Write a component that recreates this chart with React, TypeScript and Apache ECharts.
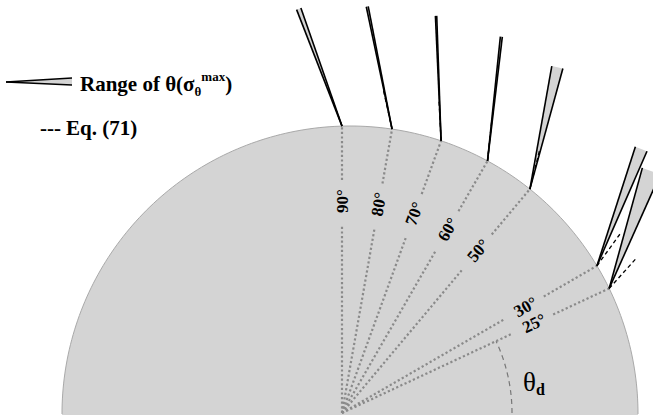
import React, { useEffect, useRef } from "react";
import * as echarts from "echarts";

// ---- data (degrees) ----
const crackAngles = [90, 80, 70, 60, 50, 30, 25];
const angleLabels = ["90°", "80°", "70°", "60°", "50°", "30°", "25°"];
const rangeLow = [109.2, 101.0, 92.0, 83.2, 74.7, 66.4, 65.9];
const rangeHigh = [111.3, 101.9, 92.6, 84.1, 79.9, 72.1, 74.6];
const eq71Angles = [110, 102.5, 93, 84, 76, 54, 48];
const thetaDAngle = 25;

// ---- geometry (data units = px) ----
const X_MIN = -342;
const X_MAX = 311;
const Y_MIN = -5;
const Y_MAX = 413;
const CIRCLE_C = [8, -1];
const CIRCLE_R = 288;
const WEDGE_LEN = 125;
const DASH_LEN = 42;
const LABEL_R = 212;
const GAP_IN = 187;
const GAP_OUT = 233;
const ARC_R = 170;

const FONT = "'Liberation Serif', 'Times New Roman', serif";
const GRAY = "#d4d4d4";

const rad = (d: number) => (d * Math.PI) / 180;
const dir = (d: number) => [Math.cos(rad(d)), Math.sin(rad(d))];
const rayHit = (d: number) => {
  const [ux, uy] = dir(d);
  const b = CIRCLE_C[0] * ux + CIRCLE_C[1] * uy;
  const c = CIRCLE_C[0] ** 2 + CIRCLE_C[1] ** 2 - CIRCLE_R ** 2;
  return b + Math.sqrt(b * b - c);
};
const polar = (d: number, r: number, from = [0, 0]) => {
  const [ux, uy] = dir(d);
  return [from[0] + r * ux, from[1] + r * uy];
};

export default function App() {
  const ref = useRef<HTMLDivElement>(null);
  useEffect(() => {
    if (!ref.current) return;
    const chart = echarts.init(ref.current, undefined, { renderer: "svg" });

    const semicircle = {
      type: "custom",
      silent: true,
      z: 1,
      data: [[0, 0]],
      renderItem: (_p: any, api: any) => {
        const arc: number[][] = [];
        for (let a = 0; a <= 180; a += 1) {
          arc.push(api.coord(polar(a, CIRCLE_R, CIRCLE_C)));
        }
        const fillPts = arc.concat([
          api.coord([CIRCLE_C[0] - CIRCLE_R, CIRCLE_C[1] - 1]),
          api.coord([CIRCLE_C[0] + CIRCLE_R, CIRCLE_C[1] - 1]),
        ]);
        return {
          type: "group",
          children: [
            { type: "polygon", shape: { points: fillPts }, style: { fill: GRAY } },
            { type: "polyline", shape: { points: arc }, style: { stroke: "#a9a9a9", lineWidth: 1, fill: "none" } },
          ],
        };
      },
    };

    const radials = {
      type: "custom",
      silent: true,
      z: 2,
      data: crackAngles.map((a, i) => [a, i]),
      renderItem: (_p: any, api: any) => {
        const a = api.value(0);
        const i = api.value(1);
        const o = api.coord([0, 0]);
        const p1 = api.coord(polar(a, GAP_IN));
        const p2 = api.coord(polar(a, GAP_OUT));
        const p3 = api.coord(polar(a, rayHit(a)));
        const pl = api.coord(polar(a, LABEL_R));
        const ls = { stroke: "#8a8a8a", lineWidth: 2.2, lineDash: [2.2, 2.4] };
        return {
          type: "group",
          children: [
            { type: "line", shape: { x1: o[0], y1: o[1], x2: p1[0], y2: p1[1] }, style: ls },
            { type: "line", shape: { x1: p2[0], y1: p2[1], x2: p3[0], y2: p3[1] }, style: ls },
            {
              type: "text",
              x: pl[0],
              y: pl[1],
              rotation: rad(a),
              style: {
                text: angleLabels[i],
                fontFamily: FONT,
                fontSize: 17,
                fontWeight: "bold",
                fill: "#000",
                align: "center",
                verticalAlign: "middle",
              },
            },
          ],
        };
      },
    };

    const wedges = {
      type: "custom",
      silent: true,
      z: 3,
      data: crackAngles.map((a, i) => [a, rangeLow[i], rangeHigh[i]]),
      renderItem: (_p: any, api: any) => {
        const a = api.value(0);
        const lo = api.value(1);
        const hi = api.value(2);
        const P = polar(a, rayHit(a));
        const p = api.coord(P);
        const q1 = api.coord(polar(lo, WEDGE_LEN, P));
        const q2 = api.coord(polar(hi, WEDGE_LEN, P));
        const ls = { stroke: "#000", lineWidth: 1.6 };
        return {
          type: "group",
          children: [
            { type: "polygon", shape: { points: [p, q1, q2] }, style: { fill: GRAY } },
            { type: "line", shape: { x1: p[0], y1: p[1], x2: q1[0], y2: q1[1] }, style: ls },
            { type: "line", shape: { x1: p[0], y1: p[1], x2: q2[0], y2: q2[1] }, style: ls },
          ],
        };
      },
    };

    const eq71 = {
      type: "custom",
      silent: true,
      z: 4,
      data: crackAngles.map((a, i) => [a, eq71Angles[i]]),
      renderItem: (_p: any, api: any) => {
        const a = api.value(0);
        const e = api.value(1);
        const P = polar(a, rayHit(a));
        const p = api.coord(P);
        const q = api.coord(polar(e, DASH_LEN, P));
        return {
          type: "line",
          shape: { x1: p[0], y1: p[1], x2: q[0], y2: q[1] },
          style: { stroke: "#000", lineWidth: 1.3, lineDash: [4, 3] },
        };
      },
    };

    const thetaArc = {
      type: "custom",
      silent: true,
      z: 2,
      data: [[thetaDAngle, 0]],
      renderItem: (_p: any, api: any) => {
        const end = api.value(0);
        const pts: number[][] = [];
        for (let a = 0; a <= end; a += 0.5) pts.push(api.coord(polar(a, ARC_R)));
        return {
          type: "polyline",
          shape: { points: pts },
          style: { stroke: "#777", lineWidth: 1.2, lineDash: [5, 4], fill: "none" },
        };
      },
    };

    const txt = { fontFamily: FONT, fontWeight: "bold", fill: "#000" };

    chart.setOption({
      animation: false,
      backgroundColor: "#ffffff",
      grid: { left: 0, right: 0, top: 0, bottom: 0, containLabel: false },
      xAxis: { type: "value", min: X_MIN, max: X_MAX, show: false },
      yAxis: { type: "value", min: Y_MIN, max: Y_MAX, show: false },
      series: [semicircle, radials, thetaArc, wedges, eq71],
      graphic: [
        {
          type: "polygon",
          z: 100,
          shape: { points: [[6, 82], [72, 78], [72, 85]] },
          style: { fill: GRAY },
          silent: true,
        },
        { type: "line", z: 101, shape: { x1: 6, y1: 82, x2: 72, y2: 78 }, style: { stroke: "#000", lineWidth: 1.3 }, silent: true },
        { type: "line", z: 101, shape: { x1: 6, y1: 82, x2: 72, y2: 85 }, style: { stroke: "#000", lineWidth: 1.3 }, silent: true },
        {
          type: "text",
          z: 101,
          x: 80,
          y: 84,
          silent: true,
          style: {
            text: "{b|Range of θ(σ}{sub|θ}{sup|max}{b|)}",
            verticalAlign: "middle",
            align: "left",
            rich: {
              b: { ...txt, fontSize: 21, lineHeight: 28 },
              sub: { ...txt, fontSize: 13, lineHeight: 13, verticalAlign: "bottom" },
              sup: { ...txt, fontSize: 13, lineHeight: 13, verticalAlign: "top" },
            },
          },
        },
        {
          type: "text",
          z: 101,
          x: 40,
          y: 128,
          silent: true,
          style: { ...txt, text: "---", fontSize: 21, verticalAlign: "middle", align: "left" },
        },
        {
          type: "text",
          z: 101,
          x: 66,
          y: 128,
          silent: true,
          style: { ...txt, text: "Eq. (71)", fontSize: 21, verticalAlign: "middle", align: "left" },
        },
        {
          type: "text",
          z: 101,
          x: 523,
          y: 382,
          silent: true,
          style: {
            text: "{th|θ}{sd|d}",
            verticalAlign: "middle",
            align: "left",
            rich: {
              th: { fontFamily: FONT, fontSize: 27, fill: "#000", lineHeight: 30 },
              sd: { fontFamily: FONT, fontSize: 16, fontWeight: "bold", fill: "#000", lineHeight: 14, verticalAlign: "bottom" },
            },
          },
        },
      ],
    });
    return () => chart.dispose();
  }, []);
  return <div ref={ref} style={{ position: "fixed", left: 0, top: 0, width: 653, height: 418 }} />;
}
